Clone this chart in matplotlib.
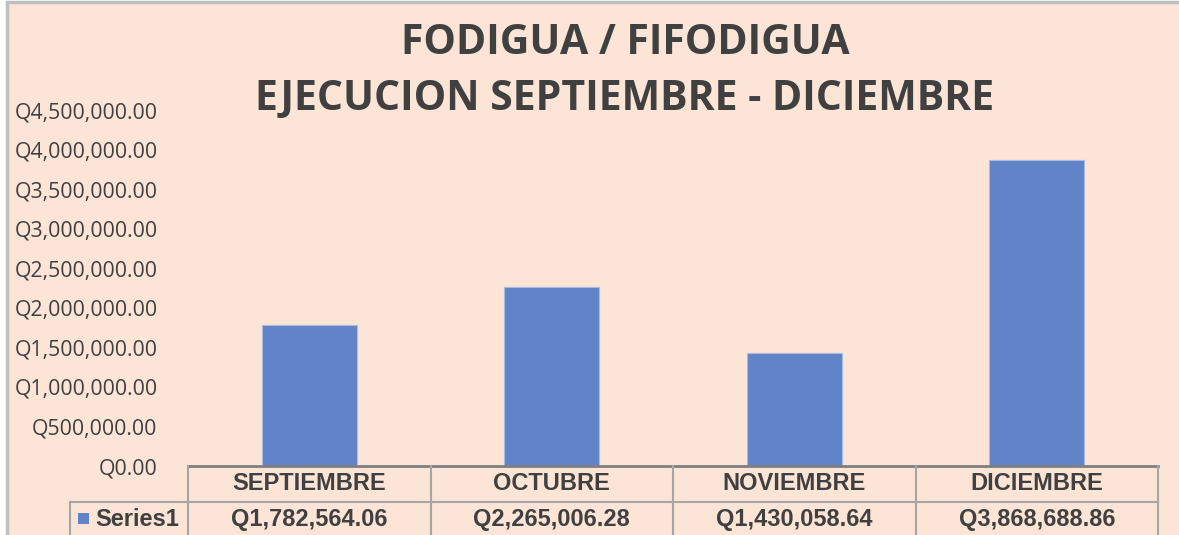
import matplotlib
matplotlib.use("Agg")
import matplotlib.pyplot as plt
from matplotlib.patches import Rectangle

# datos
meses = ["SEPTIEMBRE", "OCTUBRE", "NOVIEMBRE", "DICIEMBRE"]
ejecucion = [1782564.06, 2265006.28, 1430058.64, 3868688.86]
serie = "Series1"
titulo = ["FODIGUA / FIFODIGUA", "EJECUCION SEPTIEMBRE - DICIEMBRE"]

W, H = 1179, 535
FONDO = "#FCE4D6"
AZUL = "#6183C8"
TEXTO = "#404040"
GRIS = "#A6A6A6"


def q(v):
    return f"Q{v:,.2f}"


fig = plt.figure(figsize=(W / 100, H / 100), dpi=100)
fig.patch.set_facecolor("white")

# marco del area del grafico (coordenadas en pixeles)
marco = fig.add_axes([0, 0, 1, 1], zorder=0)
marco.set_xlim(0, W)
marco.set_ylim(H, 0)
marco.axis("off")
marco.add_patch(Rectangle((7, 2), W + 20, H + 20, facecolor=FONDO,
                          edgecolor="#BFBFBF", linewidth=2.5))

x0, x1, y0, y1 = 188, 1158, 466, 110
ax = fig.add_axes([x0 / W, (H - y0) / H, (x1 - x0) / W, (y0 - y1) / H], zorder=1)
ax.set_facecolor("none")

pos = range(len(meses))
ax.bar(pos, ejecucion, width=0.39, color=AZUL, edgecolor="#A8BCE4", linewidth=0.8)
ax.set_xlim(-0.5, len(meses) - 0.5)
ax.set_ylim(0, 4500000)
ax.set_yticks([i * 500000 for i in range(10)])
ax.set_yticklabels([q(t) for t in ax.get_yticks()], family="Open Sans",
                   fontsize=15.3, color=TEXTO)
ax.tick_params(axis="y", length=0, pad=22)
ax.set_xticks([])
for s in ax.spines.values():
    s.set_visible(False)

for linea, yp in zip(titulo, [43, 100]):
    fig.text(625 / W, 1 - yp / H, linea, ha="center", va="center", family="Open Sans",
             fontweight="bold", fontsize=29.5, color=TEXTO)

# tabla de datos
tr = ax.get_xaxis_transform()
fila = 36 / (y0 - y1)
abajo = -(H - y0 + 10) / (y0 - y1)
ax.plot([-0.5, len(meses) - 0.5], [0, 0], transform=tr, color="#7F7F7F",
        linewidth=2, clip_on=False)
ax.plot([-0.5, len(meses) - 0.5], [-fila, -fila], transform=tr, color=GRIS,
        linewidth=1.5, clip_on=False)
for i in range(len(meses) + 1):
    ax.plot([i - 0.5, i - 0.5], [0, abajo], transform=tr, color=GRIS,
            linewidth=1.5, clip_on=False)
for i, (m, v) in enumerate(zip(meses, ejecucion)):
    ax.text(i, -fila / 2, m, transform=tr, ha="center", va="center",
            family="Liberation Sans", fontweight="bold", fontsize=17, color=TEXTO)
    ax.text(i, -fila * 1.5 + 0.002, q(v), transform=tr, ha="center", va="center",
            family="Liberation Sans", fontweight="bold", fontsize=17, color=TEXTO)

# celda de leyenda
marco.plot([70, x0], [502, 502], color=GRIS, linewidth=1.5)
marco.plot([70, 70], [502, H + 5], color=GRIS, linewidth=1.5)
marco.add_patch(Rectangle((78, 513), 11, 11, facecolor=AZUL, edgecolor="none"))
marco.text(95, 519, serie, ha="left", va="center", family="Liberation Sans",
           fontweight="bold", fontsize=17, color=TEXTO)

fig.savefig("out.png", dpi=100, facecolor="white")
